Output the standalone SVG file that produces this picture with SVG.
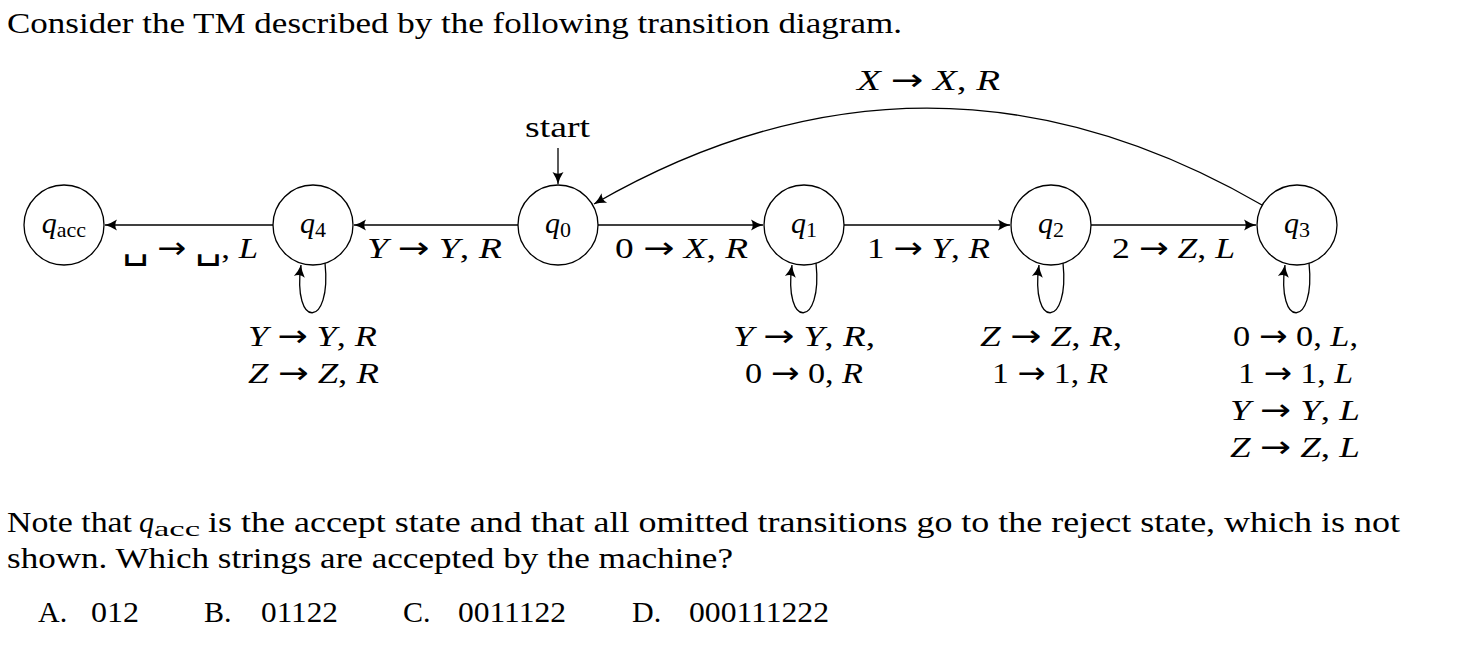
<svg xmlns="http://www.w3.org/2000/svg" width="1476" height="662" viewBox="0 0 1476 662">
  <style>
    .t { font-family: "Liberation Serif", "Times New Roman", Times, serif; font-size: 30px; fill: #000; }
    .i { font-style: italic; }
    .s { font-size: 22px; }
    .a { font-family: "DejaVu Sans", sans-serif; font-size: 30px; }
    .b { font-family: "DejaVu Sans", sans-serif; font-size: 36px; }
    .node circle { fill: #fff; stroke: #000; stroke-width: 1.3; }
    .edge { fill: none; stroke: #000; stroke-width: 1.3; marker-end: url(#arr); }
  </style>
  <defs>
    <marker id="arr" viewBox="-13 -7 14 14" refX="0" refY="0" markerWidth="14" markerHeight="14" markerUnits="userSpaceOnUse" orient="auto">
      <path d="M0,0 Q-6,-1.6 -12,-5.5 Q-8.5,0 -12,5.5 Q-6,1.6 0,0 Z" fill="#000"/>
    </marker>
  </defs>
  <rect width="1476" height="662" fill="#fff"/>

  <text class="t" x="7" y="33" textLength="895" lengthAdjust="spacingAndGlyphs">Consider the TM described by the following transition diagram.</text>

  <g id="connectors">
    <line class="edge" x1="558" y1="148" x2="558" y2="184"/>
    <line class="edge" x1="273" y1="225" x2="105" y2="225"/>
    <line class="edge" x1="518" y1="225" x2="354" y2="225"/>
    <line class="edge" x1="598" y1="225" x2="763" y2="225"/>
    <line class="edge" x1="844" y1="225" x2="1010" y2="225"/>
    <line class="edge" x1="1091" y1="225" x2="1256" y2="225"/>
    <path class="edge" d="M1262,205 C1039,76 816,76 594,204"/>
    <path class="edge" d="M325,263 C332,329 292,329 301,265"/>
    <path class="edge" d="M816,263 C823,329 783,329 792,265"/>
    <path class="edge" d="M1063,263 C1070,329 1030,329 1039,265"/>
    <path class="edge" d="M1309,263 C1316,329 1276,329 1285,265"/>
  </g>

  <g id="labels">
    <text class="t" x="525" y="137" textLength="65" lengthAdjust="spacingAndGlyphs">start</text>
    <text class="t" x="857" y="90" textLength="143" lengthAdjust="spacingAndGlyphs"><tspan class="i">X</tspan> <tspan class="a">→</tspan> <tspan class="i">X</tspan>, <tspan class="i">R</tspan></text>
    <text class="t" x="122" y="258" textLength="136" lengthAdjust="spacingAndGlyphs"><tspan class="b">␣</tspan> <tspan class="a">→</tspan> <tspan class="b">␣</tspan>, <tspan class="i">L</tspan></text>
    <text class="t" x="367" y="258" textLength="135" lengthAdjust="spacingAndGlyphs"><tspan class="i">Y</tspan> <tspan class="a">→</tspan> <tspan class="i">Y</tspan>, <tspan class="i">R</tspan></text>
    <text class="t" x="615" y="258" textLength="133" lengthAdjust="spacingAndGlyphs">0 <tspan class="a">→</tspan> <tspan class="i">X</tspan>, <tspan class="i">R</tspan></text>
    <text class="t" x="867" y="258" textLength="123" lengthAdjust="spacingAndGlyphs">1 <tspan class="a">→</tspan> <tspan class="i">Y</tspan>, <tspan class="i">R</tspan></text>
    <text class="t" x="1112" y="258" textLength="123" lengthAdjust="spacingAndGlyphs">2 <tspan class="a">→</tspan> <tspan class="i">Z</tspan>, <tspan class="i">L</tspan></text>

    <text class="t" x="248" y="346" textLength="129" lengthAdjust="spacingAndGlyphs"><tspan class="i">Y</tspan> <tspan class="a">→</tspan> <tspan class="i">Y</tspan>, <tspan class="i">R</tspan></text>
    <text class="t" x="248" y="383" textLength="131" lengthAdjust="spacingAndGlyphs"><tspan class="i">Z</tspan> <tspan class="a">→</tspan> <tspan class="i">Z</tspan>, <tspan class="i">R</tspan></text>

    <text class="t" x="733" y="346" textLength="142" lengthAdjust="spacingAndGlyphs"><tspan class="i">Y</tspan> <tspan class="a">→</tspan> <tspan class="i">Y</tspan>, <tspan class="i">R</tspan>,</text>
    <text class="t" x="745" y="383" textLength="118" lengthAdjust="spacingAndGlyphs">0 <tspan class="a">→</tspan> 0, <tspan class="i">R</tspan></text>

    <text class="t" x="980" y="346" textLength="142" lengthAdjust="spacingAndGlyphs"><tspan class="i">Z</tspan> <tspan class="a">→</tspan> <tspan class="i">Z</tspan>, <tspan class="i">R</tspan>,</text>
    <text class="t" x="992" y="383" textLength="116" lengthAdjust="spacingAndGlyphs">1 <tspan class="a">→</tspan> 1, <tspan class="i">R</tspan></text>

    <text class="t" x="1233" y="346" textLength="125" lengthAdjust="spacingAndGlyphs">0 <tspan class="a">→</tspan> 0, <tspan class="i">L</tspan>,</text>
    <text class="t" x="1238" y="383" textLength="115" lengthAdjust="spacingAndGlyphs">1 <tspan class="a">→</tspan> 1, <tspan class="i">L</tspan></text>
    <text class="t" x="1230" y="420" textLength="130" lengthAdjust="spacingAndGlyphs"><tspan class="i">Y</tspan> <tspan class="a">→</tspan> <tspan class="i">Y</tspan>, <tspan class="i">L</tspan></text>
    <text class="t" x="1230" y="457" textLength="130" lengthAdjust="spacingAndGlyphs"><tspan class="i">Z</tspan> <tspan class="a">→</tspan> <tspan class="i">Z</tspan>, <tspan class="i">L</tspan></text>
  </g>

  <g id="q_acc" class="node">
    <circle cx="64" cy="225" r="40"/>
    <text class="t" x="64" y="233" text-anchor="middle"><tspan class="i">q</tspan><tspan class="s" dy="4">acc</tspan></text>
  </g>
  <g id="q4" class="node">
    <circle cx="313" cy="225" r="40"/>
    <text class="t" x="313" y="233" text-anchor="middle"><tspan class="i">q</tspan><tspan class="s" dy="4">4</tspan></text>
  </g>
  <g id="q0" class="node">
    <circle cx="558" cy="225" r="40"/>
    <text class="t" x="558" y="233" text-anchor="middle"><tspan class="i">q</tspan><tspan class="s" dy="4">0</tspan></text>
  </g>
  <g id="q1" class="node">
    <circle cx="804" cy="225" r="40"/>
    <text class="t" x="804" y="233" text-anchor="middle"><tspan class="i">q</tspan><tspan class="s" dy="4">1</tspan></text>
  </g>
  <g id="q2" class="node">
    <circle cx="1051" cy="225" r="40"/>
    <text class="t" x="1051" y="233" text-anchor="middle"><tspan class="i">q</tspan><tspan class="s" dy="4">2</tspan></text>
  </g>
  <g id="q3" class="node">
    <circle cx="1297" cy="225" r="40"/>
    <text class="t" x="1297" y="233" text-anchor="middle"><tspan class="i">q</tspan><tspan class="s" dy="4">3</tspan></text>
  </g>

  <g id="question">
    <text class="t" x="7" y="532" textLength="125" lengthAdjust="spacingAndGlyphs">Note that</text>
    <text class="t i" x="139" y="532">q</text>
    <text class="t s" x="154" y="536" textLength="46" lengthAdjust="spacingAndGlyphs">acc</text>
    <text class="t" x="208" y="532" textLength="1192" lengthAdjust="spacingAndGlyphs">is the accept state and that all omitted transitions go to the reject state, which is not</text>
    <text class="t" x="7" y="568" textLength="726" lengthAdjust="spacingAndGlyphs">shown. Which strings are accepted by the machine?</text>
    <text class="t" x="38" y="622">A.</text>
    <text class="t" x="91" y="622" textLength="48" lengthAdjust="spacingAndGlyphs">012</text>
    <text class="t" x="204" y="622">B.</text>
    <text class="t" x="261" y="622" textLength="77" lengthAdjust="spacingAndGlyphs">01122</text>
    <text class="t" x="403" y="622">C.</text>
    <text class="t" x="458" y="622" textLength="108" lengthAdjust="spacingAndGlyphs">0011122</text>
    <text class="t" x="632" y="622">D.</text>
    <text class="t" x="689" y="622" textLength="140" lengthAdjust="spacingAndGlyphs">000111222</text>
  </g>
</svg>
